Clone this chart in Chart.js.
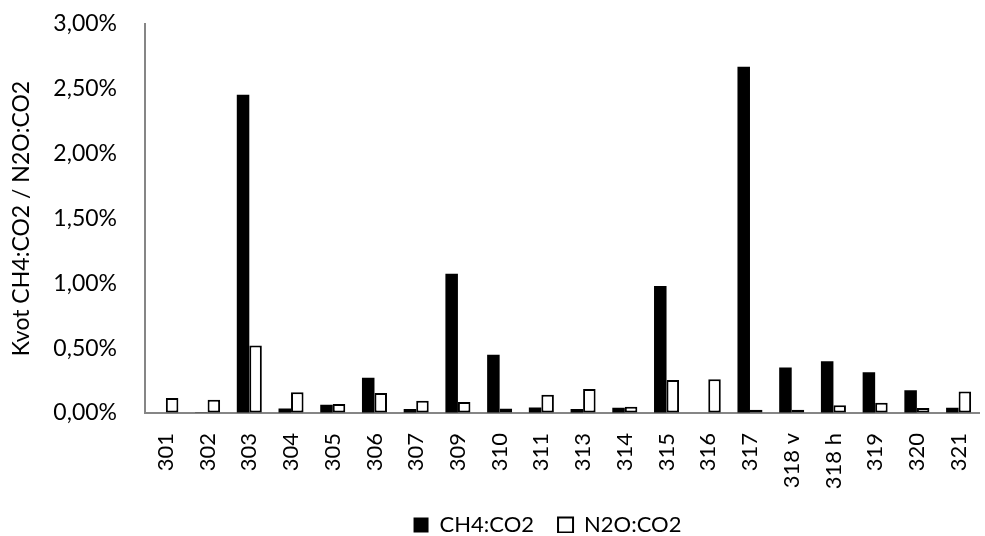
<!DOCTYPE html>
<html>
<head>
<meta charset="utf-8">
<script src="https://cdn.jsdelivr.net/npm/chart.js@4"></script>
<style>
    html, body { margin: 0; padding: 0; background: #ffffff; }
    #wrap { width: 985px; height: 536px; }
</style>
</head>
<body>
<div id="wrap"><canvas id="chart" width="985" height="536"></canvas></div>
<script>
// Categories (sampling points)
const categories = ['301', '302', '303', '304', '305', '306', '307', '309', '310', '311',
    '313', '314', '315', '316', '317', '318 v', '318 h', '319', '320', '321'];

// Ratios in percent
const ch4Values = [0, 0.005, 2.455, 0.035, 0.064, 0.272, 0.03, 1.073, 0.449, 0.043,
    0.03, 0.04, 0.98, 0, 2.67, 0.35, 0.40, 0.315, 0.175, 0.04];
const n2oValues = [0.116, 0.103, 0.52, 0.16, 0.07, 0.155, 0.095, 0.085, 0.035, 0.14,
    0.185, 0.048, 0.255, 0.26, 0.025, 0.025, 0.06, 0.08, 0.038, 0.165];

// Y axis ticks 0,00% .. 3,00%
const yMin = 0;
const yMax = 3;
const yStep = 0.5;

const FONT = 'Lato';
const axisColor = '#868686';

const fmtPct = (v) => v.toFixed(2).replace('.', ',') + '%';

// nudge the legend a bit (the original isn't centred on the canvas)
const legendNudge = {
    id: 'legendNudge',
    afterLayout(chart) {
        const lg = chart.legend;
        if (!lg) return;
        const dx = 55, dy = -3;
        lg.left += dx; lg.right += dx;
        lg.top += dy; lg.bottom += dy;
    }
};

// invisible tick marks: push labels away from the axis without
// the extra padding Chart.js adds at the plot ends
const hiddenTicks = (len) => ({
    display: true,
    drawOnChartArea: false,
    drawTicks: true,
    tickLength: len,
    tickColor: 'rgba(0,0,0,0)'
});

const ctx = document.getElementById('chart').getContext('2d');
new Chart(ctx, {
    type: 'bar',
    data: {
        labels: categories,
        datasets: [
            {
                label: 'CH4:CO2',
                data: ch4Values,
                backgroundColor: '#000000',
                borderColor: '#000000',
                borderWidth: 0,
                categoryPercentage: 0.6,
                barPercentage: 1.0
            },
            {
                label: 'N2O:CO2',
                data: n2oValues,
                backgroundColor: '#ffffff',
                borderColor: '#000000',
                borderWidth: 2,
                borderSkipped: false,
                categoryPercentage: 0.6,
                barPercentage: 1.0
            }
        ]
    },
    plugins: [legendNudge],
    options: {
        responsive: false,
        animation: false,
        maintainAspectRatio: false,
        layout: {
            padding: { top: 24, right: 0, bottom: 0, left: 0 }
        },
        plugins: {
            legend: {
                position: 'bottom',
                maxHeight: 43,
                labels: {
                    color: '#000000',
                    font: { family: FONT, size: 22 },
                    boxWidth: 15,
                    boxHeight: 15,
                    padding: 24
                }
            },
            tooltip: { enabled: false }
        },
        scales: {
            x: {
                grid: hiddenTicks(20),
                border: { display: true, color: axisColor, width: 2 },
                ticks: {
                    color: '#000000',
                    font: { family: FONT, size: 22 },
                    minRotation: 90,
                    maxRotation: 90,
                    padding: 0,
                    autoSkip: false
                },
                afterFit: (scale) => { scale.height = 80; }
            },
            y: {
                min: yMin,
                max: yMax,
                grid: hiddenTicks(22),
                border: { display: true, color: axisColor, width: 2 },
                ticks: {
                    stepSize: yStep,
                    color: '#000000',
                    font: { family: FONT, size: 23 },
                    padding: 6,
                    callback: (v) => fmtPct(v)
                },
                title: {
                    display: true,
                    text: 'Kvot CH4:CO2 / N2O:CO2',
                    color: '#000000',
                    font: { family: FONT, size: 23 },
                    padding: { top: 8, bottom: 0 }
                },
                afterFit: (scale) => { scale.width = 145; }
            }
        }
    }
});
</script>
</body>
</html>
